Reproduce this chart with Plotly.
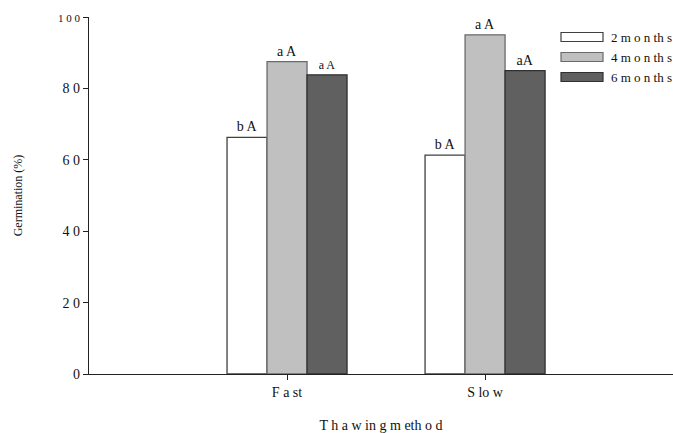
import plotly.graph_objects as go

categories = ["Fast", "Slow"]
category_labels = ["F a st", "S lo w"]
series_names = ["2 months", "4 months", "6 months"]
legend_labels = ["2 m o n th s", "4 m o n th s", "6 m o n th s"]
values_2m = [66.3, 61.3]
values_4m = [87.5, 95.0]
values_6m = [83.8, 85.0]
labels_2m = ["b A", "b A"]
labels_4m = ["a A", "a A"]
labels_6m = ["a A", "aA"]
y_tick_vals = [0, 20, 40, 60, 80, 100]
y_tick_text = ["0", "2 0", "4 0", "6 0", "8 0", "<span style='font-size:11px'>1 0 0</span>"]

FONT = "Liberation Serif, Times New Roman, serif"
fills = ["#ffffff", "#c0c0c0", "#606060"]
outlines = ["#404040", "#6a6a6a", "#303030"]
series_vals = [values_2m, values_4m, values_6m]
series_labels = [labels_2m, labels_4m, labels_6m]
label_sizes = [[14, 14], [14, 14], [12, 14]]

fig = go.Figure()
for name, vals, labs, fc, lc, ls in zip(series_names, series_vals, series_labels, fills, outlines, label_sizes):
    fig.add_trace(go.Bar(
        x=categories, y=vals, name=name,
        marker=dict(color=fc, line=dict(color=lc, width=1.3)),
        text=labs, textposition="outside",
        textfont=dict(family=FONT, size=ls, color="#111"),
        cliponaxis=False, showlegend=False,
    ))

# manual legend (wide rectangular swatches)
PW, PH = 584.0, 357.0
leg_y = [1 - 20 / PH, 1 - 40 / PH, 1 - 60 / PH]
for i, (lab, fc, lc) in enumerate(zip(legend_labels, fills, outlines)):
    y = leg_y[i]
    fig.add_shape(type="rect", xref="paper", yref="paper",
                  x0=(561 - 89) / PW, x1=(603 - 89) / PW,
                  y0=y - 4.5 / PH, y1=y + 4.5 / PH,
                  fillcolor=fc, line=dict(color=lc, width=1.2))
    fig.add_annotation(xref="paper", yref="paper", x=(609 - 89) / PW, y=y,
                       text=lab, showarrow=False, xanchor="left", yanchor="middle",
                       font=dict(family=FONT, size=13, color="#111"))

fig.update_layout(
    width=673, height=433,
    margin=dict(l=89, r=0, t=17, b=59),
    paper_bgcolor="white", plot_bgcolor="white",
    barmode="group", bargap=0.394, bargroupgap=0,
    font=dict(family=FONT, size=13, color="#111"),
    xaxis=dict(
        range=[-1, 1.949], tickvals=categories, ticktext=category_labels,
        showline=True, linecolor="#222", linewidth=1.2,
        ticks="outside", ticklen=5, tickcolor="#222",
        showgrid=False, zeroline=False,
        tickfont=dict(family=FONT, size=14),
        title=dict(text="T h a w in g m eth o d", font=dict(family=FONT, size=14), standoff=21),
    ),
    yaxis=dict(
        range=[0, 100], tickvals=y_tick_vals, ticktext=y_tick_text,
        showline=True, linecolor="#222", linewidth=1.2,
        ticks="outside", ticklen=5, tickcolor="#222",
        showgrid=False, zeroline=False,
        tickfont=dict(family=FONT, size=14),
        title=dict(text="Germination (%)", font=dict(family=FONT, size=12), standoff=32),
    ),
)

fig.write_html("out.html", config={"displayModeBar": False},
               post_script="document.body.style.margin='0';document.body.style.overflow='hidden';")
